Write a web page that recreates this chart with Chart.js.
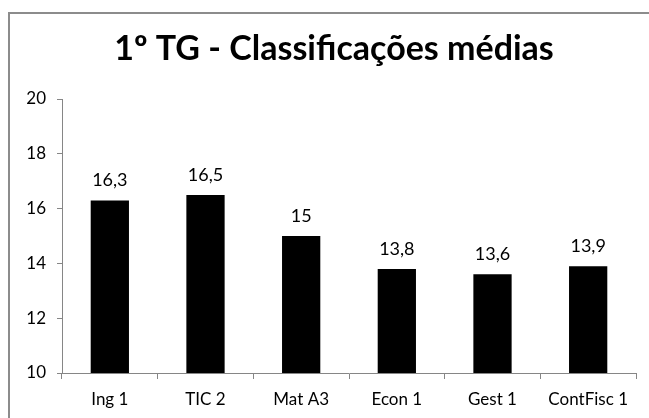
<!DOCTYPE html>
<html>
<head>
<meta charset="utf-8">
<script src="https://cdn.jsdelivr.net/npm/chart.js@4"></script>
<style>
  html, body { margin: 0; padding: 0; background: #fff; }
  #wrap { width: 649px; height: 418px; }
</style>
</head>
<body>
<div id="wrap"><canvas id="chart" width="649" height="418"></canvas></div>
<script>
/* data */
const chartTitle = "1º TG - Classificações médias";
const categories = ["Ing 1", "TIC 2", "Mat A3", "Econ 1", "Gest 1", "ContFisc 1"];
const averages = [16.3, 16.5, 15, 13.8, 13.6, 13.9];
const yTicks = [10, 12, 14, 16, 18, 20];

const FONT = "Lato, 'Open Sans', sans-serif";
const AXIS_GREY = "#868686";

// outer frame of the chart object (cropped at right and bottom) + title
const framePlugin = {
  id: "frame",
  beforeDraw(chart) {
    const ctx = chart.ctx;
    ctx.save();
    ctx.strokeStyle = "#8c8c8c";
    ctx.lineWidth = 2;
    ctx.strokeRect(9, 13, chart.width + 20, chart.height + 20);
    ctx.font = "bold 34px " + FONT;
    ctx.fillStyle = "#000";
    ctx.textAlign = "center";
    ctx.textBaseline = "middle";
    ctx.fillText(chartTitle, 334, 49);
    ctx.restore();
  }
};

// value labels above bars, comma decimals
const valueLabels = {
  id: "valueLabels",
  afterDatasetsDraw(chart) {
    const ctx = chart.ctx;
    const meta = chart.getDatasetMeta(0);
    ctx.save();
    ctx.font = "18px " + FONT;
    ctx.fillStyle = "#000";
    ctx.textAlign = "center";
    ctx.textBaseline = "middle";
    meta.data.forEach((bar, i) => {
      const txt = String(averages[i]).replace(".", ",");
      ctx.fillText(txt, bar.x, bar.y - 20);
    });
    ctx.restore();
  }
};

new Chart(document.getElementById("chart"), {
  type: "bar",
  data: {
    labels: categories,
    datasets: [{
      data: averages,
      backgroundColor: "#000",
      barPercentage: 0.4,
      categoryPercentage: 1
    }]
  },
  options: {
    responsive: false,
    animation: false,
    layout: { padding: { left: 0, right: 13, top: 99, bottom: 0 } },
    plugins: {
      legend: { display: false },
      tooltip: { enabled: false },
      title: { display: false }
    },
    scales: {
      x: {
        afterFit(scale) { scale.height = 45; },
        grid: {
          display: true,
          drawOnChartArea: false,
          drawTicks: true,
          tickLength: 6,
          color: AXIS_GREY,
          offset: true
        },
        border: { color: AXIS_GREY, width: 1 },
        ticks: {
          color: "#000",
          font: { family: FONT, size: 17 },
          padding: 10
        }
      },
      y: {
        min: 10,
        max: 20,
        afterFit(scale) { scale.width = 62; },
        afterBuildTicks(scale) { scale.ticks = yTicks.map(v => ({ value: v })); },
        grid: {
          display: true,
          drawOnChartArea: false,
          drawTicks: true,
          tickLength: 5,
          color: AXIS_GREY
        },
        border: { color: AXIS_GREY, width: 1 },
        ticks: {
          color: "#000",
          font: { family: FONT, size: 17 },
          padding: 11
        }
      }
    }
  },
  plugins: [framePlugin, valueLabels]
});
</script>
</body>
</html>
